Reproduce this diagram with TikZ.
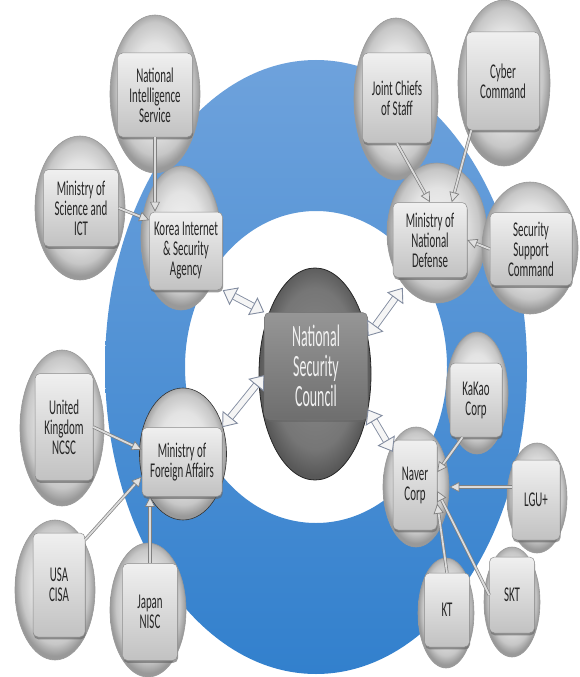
\documentclass[tikz,border=0pt]{standalone}
\usepackage{fontspec}
\usepackage{tikz}
\usetikzlibrary{arrows.meta,shapes.geometric,shadows}
\newfontfamily\orgfont{Carlito}[FakeStretch=0.52]
\newfontfamily\hubfont{Carlito}[FakeStretch=0.45]
\usepackage{xcolor}
\definecolor{ringtop}{RGB}{110,162,220}
\definecolor{ringbottom}{RGB}{50,128,205}
\definecolor{hubgray}{RGB}{118,118,118}
\definecolor{hubtop}{RGB}{150,150,150}
\definecolor{hubbottom}{RGB}{110,110,110}
\definecolor{linkedge}{RGB}{130,140,160}
\pgfdeclareradialshading{shellshade}{\pgfpoint{0bp}{3bp}}{color(0bp)=(white!95!black); color(14bp)=(white!89!black); color(21bp)=(white!78!black); color(25bp)=(white!60!black); color(50bp)=(white!60!black)}
\pgfdeclareradialshading{hubshade}{\pgfpoint{0bp}{2bp}}{color(0bp)=(hubgray!85!white); color(19bp)=(hubgray); color(25bp)=(hubgray!75!black); color(50bp)=(hubgray!75!black)}
\tikzset{
  orgring/.style={ellipse,draw=black!40,line width=0.6pt,inner sep=0pt,shading=shellshade},
  orgbox/.style={rectangle,rounded corners=5pt,draw=black!45,line width=0.5pt,
    top color=white!94!black,bottom color=white!76!black,align=center,inner sep=1pt,
    font=\orgfont\fontsize{21}{20}\selectfont,text=black!85,
    drop shadow={shadow xshift=0.6pt,shadow yshift=-2.4pt,fill=black!60,opacity=0.65}},
  hubring/.style={ellipse,draw=black!85,line width=0.8pt,inner sep=0pt,shading=hubshade},
  hubbox/.style={orgbox,draw=black!55,top color=hubtop,bottom color=hubbottom,
    font=\hubfont\fontsize{31}{30}\selectfont,text=white!94!black},
  feedarrow/.style={-{Triangle[length=10pt,width=10pt,fill=white!88!black]},draw=black!50,
    double=white!86!black,double distance=1.8pt,line width=0.7pt},
  linkarrow/.style={{Triangle[length=13pt,width=20pt,fill=white!96!black]}-{Triangle[length=13pt,width=20pt,fill=white!96!black]},
    draw=linkedge,double=white!96!black,double distance=5.5pt,line width=0.9pt}
}

\begin{document}
\begin{tikzpicture}[x=1pt,y=-1pt]
  \useasboundingbox (0,0) rectangle (579,677);
  % blue ring behind everything
  \shade[even odd rule,top color=ringtop,bottom color=ringbottom]
    (316,367) ellipse [x radius=211,y radius=307] (316,367) ellipse [x radius=131,y radius=156];

  % upper left group
  \node[orgring,minimum width=90pt,minimum height=158pt] (nisbg) at (155,94) {};
  \node[orgbox,minimum width=75pt,minimum height=84pt] (nis) at (155,95) {National\\Intelligence\\Service};
  \node[orgring,minimum width=90pt,minimum height=144pt] (msitbg) at (80,208) {};
  \node[orgbox,minimum width=75pt,minimum height=77pt] (msit) at (81,208) {Ministry of\\Science and\\ICT};
  \node[orgring,minimum width=80pt,minimum height=144pt] (kisabg) at (181,238) {};
  \node[orgbox,minimum width=73pt,minimum height=78pt] (kisa) at (186,251) {Korea Internet\\\& Security\\Agency};

  % upper right group
  \node[orgring,minimum width=84pt,minimum height=162pt] (jcsbg) at (396,99) {};
  \node[orgbox,minimum width=69pt,minimum height=90pt] (jcs) at (397,98) {Joint Chiefs\\of Staff};
  \node[orgring,minimum width=92pt,minimum height=166pt] (cyberbg) at (504,83) {};
  \node[orgbox,minimum width=73pt,minimum height=98pt] (cyber) at (503,81) {Cyber\\Command};
  \node[orgring,minimum width=100pt,minimum height=140pt] (mndbg) at (437,233) {};
  \node[orgbox,minimum width=74pt,minimum height=75pt] (mnd) at (430,240) {Ministry of\\National\\Defense};
  \node[orgring,minimum width=96pt,minimum height=132pt] (sscbg) at (530,248) {};
  \node[orgbox,minimum width=82pt,minimum height=73pt] (ssc) at (531,249) {Security\\Support\\Command};

  % center
  \node[hubring,minimum width=112pt,minimum height=212pt] (nscbg) at (315,374) {};
  \node[hubbox,minimum width=103pt,minimum height=107pt] (nsc) at (316,366) {National\\Security\\Council};

  % lower left group
  \node[orgring,minimum width=84pt,minimum height=156pt] (ukbg) at (62,428) {};
  \node[orgbox,minimum width=58pt,minimum height=107pt] (uk) at (64,427) {United\\Kingdom\\NCSC};
  \node[orgring,draw=black!80,minimum width=87pt,minimum height=132pt] (mofabg) at (183,454) {};
  \node[orgbox,minimum width=80pt,minimum height=69pt] (mofa) at (182,462) {Ministry of\\Foreign Affairs};
  \node[orgring,minimum width=80pt,minimum height=140pt] (usabg) at (55,590) {};
  \node[orgbox,minimum width=52pt,minimum height=104pt] (usa) at (59,585) {USA\\CISA};
  \node[orgring,minimum width=76pt,minimum height=134pt] (jpbg) at (148,610) {};
  \node[orgbox,minimum width=55pt,minimum height=97pt] (jp) at (150,612) {Japan\\NISC};

  % lower right group
  \node[orgring,minimum width=62pt,minimum height=122pt] (kakaobg) at (477,393) {};
  \node[orgbox,minimum width=52pt,minimum height=74pt] (kakao) at (476,400) {KaKao\\Corp};
  \node[orgring,minimum width=66pt,minimum height=120pt] (naverbg) at (416,487) {};
  \node[orgbox,minimum width=44pt,minimum height=90pt] (naver) at (415,485) {Naver\\Corp};
  \node[orgring,minimum width=60pt,minimum height=110pt] (lgubg) at (537,498) {};
  \node[orgbox,minimum width=48pt,minimum height=80pt] (lgu) at (536,500) {LGU+};
  \node[orgring,minimum width=56pt,minimum height=110pt] (ktbg) at (446,613) {};
  \node[orgbox,minimum width=45pt,minimum height=74pt] (kt) at (447,610) {KT};
  \node[orgring,minimum width=56pt,minimum height=110pt] (sktbg) at (512,602) {};
  \node[orgbox,minimum width=45pt,minimum height=76pt] (skt) at (512,595) {SKT};

  % reporting lines
  \draw[feedarrow] (nis.south) -- (nis.south |- kisa.north);
  \draw[feedarrow] (msit.east) -- (kisa.140);
  \draw[feedarrow] (jcs.south) -- (mnd.north);
  \draw[feedarrow] ([xshift=5pt]cyber.south west) -- (mnd.60);
  \draw[feedarrow] (ssc.west) -- (mnd.east);
  \draw[feedarrow] (uk.east) -- (mofa.163);
  \draw[feedarrow] (usa.60) -- (mofa.200);
  \draw[feedarrow] (jp.north) -- (jp.north |- mofa.south);
  \draw[feedarrow] (kakao.250) -- (naver.30);
  \draw[feedarrow] (lgu.west |- naverbg.east) -- (naverbg.east);
  \draw[feedarrow] (kt.north) -- (naver.-40);
  \draw[feedarrow] (skt.west) -- (naver.-15);

  % links to the council
  \draw[linkarrow] (kisa.south east) -- (nsc.north west);
  \draw[linkarrow] ([xshift=10pt,yshift=-10pt]mnd.south west) -- (nsc.30);
  \draw[linkarrow] (mofa.north east) -- (nsc.190);
  \draw[linkarrow] (nsc.-40) -- ([yshift=-12pt]naver.north west);
\end{tikzpicture}
\end{document}
